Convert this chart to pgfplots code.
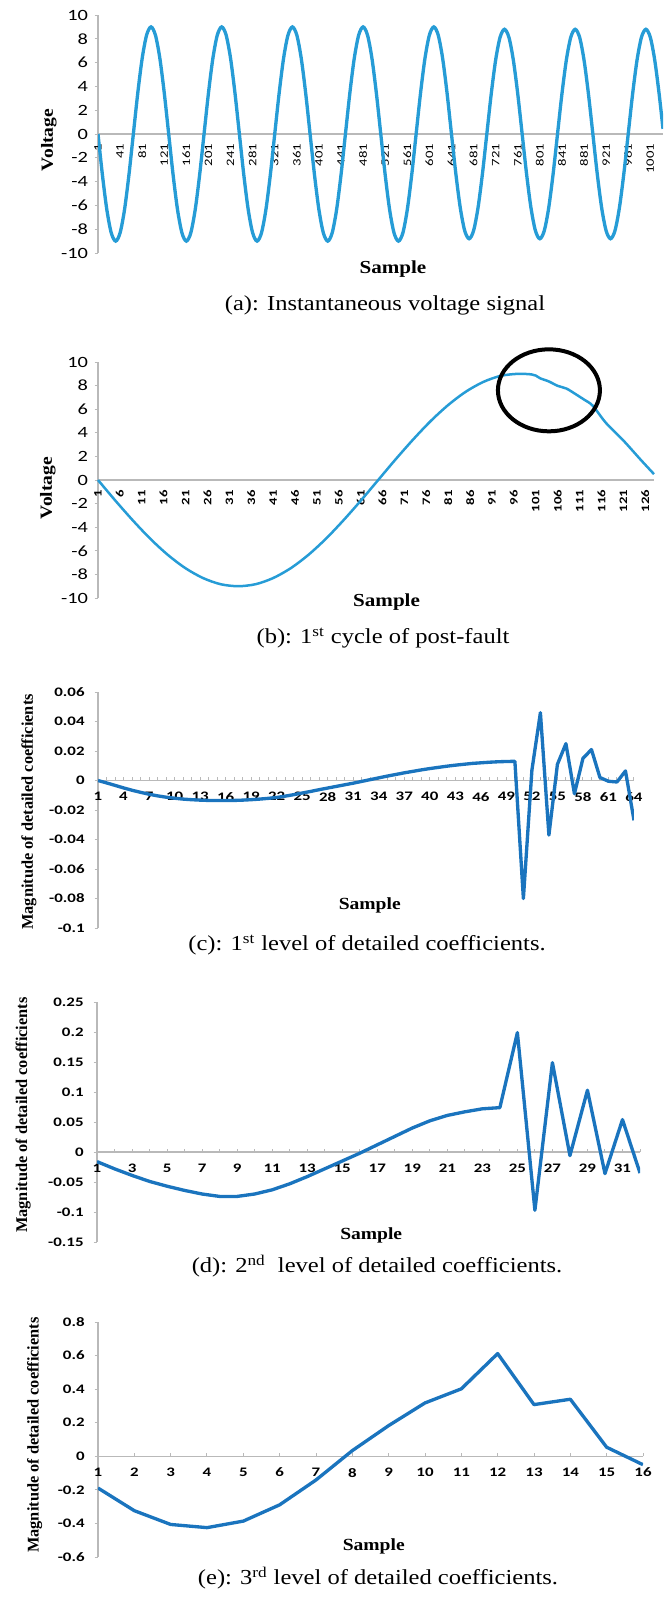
\documentclass[border=0pt]{standalone}
\usepackage{pgfplots}
\pgfplotsset{compat=1.18}
\usepackage{fontspec}
\setmainfont{Liberation Serif}[FakeStretch=1.15]
\newfontfamily\plainserif{Liberation Serif}
\newfontfamily\calfont{Carlito}[FakeStretch=1.3]

\definecolor{sigblue}{RGB}{38,156,214}
\definecolor{coefblue}{RGB}{26,116,190}
\definecolor{axgray}{RGB}{185,185,185}

\pgfplotsset{
  panel/.style={
    scale only axis,
    anchor=south west,
    axis x line*=middle,
    axis y line*=left,
    hide obscured x ticks=false,
    hide obscured y ticks=false,
    axis line style={draw=axgray, line width=0.9pt},
    ytick align=outside,
    xtick align=inside,
    major tick length=2pt,
    minor tick length=2pt,
    every tick/.style={draw=axgray, line width=0.6pt},
    minor tick num=0,
  },
  sig/.style={
    yticklabel style={font=\calfont\fontsize{9.4}{9.5}\selectfont, xshift=-0.5pt},
    xticklabel style={yshift=-2.5pt, rotate=90, anchor=east},
    xtick style={draw=none},
    xlabel style={font=\bfseries\fontsize{11}{12}\selectfont, anchor=center},
    ylabel style={font=\bfseries\fontsize{10.2}{11}\selectfont, anchor=center},
  },
  coef/.style={
    yticklabel style={font=\calfont\bfseries\fontsize{7.8}{8}\selectfont, xshift=-2.5pt},
    xticklabel style={font=\calfont\bfseries\fontsize{7.8}{8}\selectfont, yshift=-3.5pt},
    xlabel style={font=\bfseries\fontsize{10.2}{11}\selectfont, anchor=center},
    ylabel style={font=\plainserif\bfseries\fontsize{9.8}{10}\selectfont, anchor=center},
  },
}

\begin{document}
\begin{tikzpicture}
\useasboundingbox (0,0) rectangle (399.6pt,-959.4pt);

% (a) instantaneous voltage
\begin{axis}[panel, sig,
  at={(58.8pt,-151.8pt)}, width=339pt, height=142.8pt,
  xmin=1, xmax=1024, ymin=-10, ymax=10,
  ytick={-10,-8,-6,-4,-2,0,2,4,6,8,10},
  yticklabels={-10,-8,-6,-4,-2,0,2,4,6,8,10},
  xtick={1,41,81,121,161,201,241,281,321,361,401,441,481,521,561,601,641,681,721,761,801,841,881,921,961,1001},
  xticklabels={1,41,81,121,161,201,241,281,321,361,401,441,481,521,561,601,641,681,721,761,801,841,881,921,961,1001},
  xticklabel style={font=\calfont\fontsize{6.8}{7}\selectfont},
  xlabel={Sample}, ylabel={Voltage},
  xlabel style={at={(axis description cs:0.522,-0.069)}},
  ylabel style={at={(axis description cs:-0.087,0.475)}},
]
\addplot[sigblue, line width=2pt, smooth] coordinates {
(1,0)(9,-3.44)(17,-6.36)(25,-8.31)(33,-9)(41,-8.31)(49,-6.36)(57,-3.44)(65,0)(73,3.44)(81,6.36)(89,8.31)(97,9)(105,8.31)(113,6.36)(121,3.44)
(129,0)(137,-3.44)(145,-6.36)(153,-8.31)(161,-9)(169,-8.31)(177,-6.36)(185,-3.44)(193,0)(201,3.44)(209,6.36)(217,8.31)(225,9)(233,8.31)(241,6.36)(249,3.44)
(257,0)(265,-3.44)(273,-6.36)(281,-8.31)(289,-9)(297,-8.31)(305,-6.36)(313,-3.44)(321,0)(329,3.44)(337,6.36)(345,8.31)(353,9)(361,8.31)(369,6.36)(377,3.44)
(385,0)(393,-3.44)(401,-6.36)(409,-8.31)(417,-9)(425,-8.31)(433,-6.36)(441,-3.44)(449,0)(457,3.44)(465,6.36)(473,8.31)(481,9)(489,8.31)(497,6.36)(505,3.44)
(513,0)(521,-3.44)(529,-6.36)(537,-8.31)(545,-9)(553,-8.31)(561,-6.36)(569,-3.44)(577,0)(585,3.44)(593,6.36)(601,8.31)(609,9)(617,8.31)(625,6.36)(633,3.44)
(641,0)(649,-3.37)(657,-6.22)(665,-8.13)(673,-8.8)(681,-8.13)(689,-6.22)(697,-3.37)(705,0)(713,3.37)(721,6.22)(729,8.13)(737,8.8)(745,8.13)(753,6.22)(761,3.37)
(769,0)(777,-3.37)(785,-6.22)(793,-8.13)(801,-8.8)(809,-8.13)(817,-6.22)(825,-3.37)(833,0)(841,3.37)(849,6.22)(857,8.13)(865,8.8)(873,8.13)(881,6.22)(889,3.37)
(897,0)(905,-3.37)(913,-6.22)(921,-8.13)(929,-8.8)(937,-8.13)(945,-6.22)(953,-3.37)(961,0)(969,3.37)(977,6.22)(985,8.13)(993,8.8)(1001,8.13)(1009,6.22)(1017,3.37)(1024,0.43)
};
\end{axis}
\node[font=\fontsize{12.8}{14}\selectfont] at (231pt,-183pt) {(a): Instantaneous voltage signal};

% (b) first cycle of post-fault
\begin{axis}[panel, sig, clip=false,
  at={(58.8pt,-358.8pt)}, width=333.6pt, height=141.6pt,
  xmin=1, xmax=128, ymin=-10, ymax=10,
  ytick={-10,-8,-6,-4,-2,0,2,4,6,8,10},
  yticklabels={-10,-8,-6,-4,-2,0,2,4,6,8,10},
  xtick={1,6,11,16,21,26,31,36,41,46,51,56,61,66,71,76,81,86,91,96,101,106,111,116,121,126},
  xticklabels={1,6,11,16,21,26,31,36,41,46,51,56,61,66,71,76,81,86,91,96,101,106,111,116,121,126},
  xticklabel style={font=\calfont\bfseries\fontsize{6.8}{7}\selectfont},
  xlabel={Sample}, ylabel={Voltage},
  xlabel style={at={(axis description cs:0.519,-0.017)}},
  ylabel style={at={(axis description cs:-0.09,0.466)}},
]
\addplot[sigblue, line width=1.5pt, smooth] coordinates {
(1,0)(5,-1.76)(9,-3.44)(13,-5.00)(17,-6.36)(21,-7.48)(25,-8.31)(29,-8.83)(33,-9.00)
(37,-8.83)(41,-8.31)(45,-7.48)(49,-6.36)(53,-5.00)(57,-3.44)(61,-1.76)(65,0)
(69,1.76)(73,3.44)(77,5.00)(81,6.36)(85,7.48)(89,8.31)(93,8.83)(97,9.00)
(100,8.95)(101,8.85)(102,8.62)(104,8.35)(106,7.98)(108,7.75)(110,7.30)(112,6.82)(114,6.30)
(117,4.85)(121,3.35)(125,1.70)(128,0.50)
};
\draw[black, line width=2.4pt] (axis cs:104,7.6) ellipse [x radius=30.6pt, y radius=24.6pt];
\end{axis}
\node[font=\fontsize{12.8}{14}\selectfont] at (229.8pt,-382.8pt) {(b): 1\textsuperscript{st} cycle of post-fault};

% (c) 1st level detail coefficients
\begin{axis}[panel, coef,
  at={(58.8pt,-556.8pt)}, width=321.6pt, height=141.6pt,
  xmin=1, xmax=64, ymin=-0.1, ymax=0.06,
  ytick={-0.1,-0.08,-0.06,-0.04,-0.02,0,0.02,0.04,0.06},
  yticklabels={-0.1,-0.08,-0.06,-0.04,-0.02,0,0.02,0.04,0.06},
  xtick={1,4,...,64},
  xticklabels={1,4,7,10,13,16,19,22,25,28,31,34,37,40,43,46,49,52,55,58,61,64},
  minor xtick={1,...,64},
  xlabel={Sample}, ylabel={Magnitude of detailed coefficients},
  xlabel style={at={(axis description cs:0.507,0.097)}},
  ylabel style={at={(axis description cs:-0.129,0.492)}},
]
\addplot[coefblue, line width=2pt, line join=round] coordinates {
(1,0.0000)(2,-0.0016)(3,-0.0033)(4,-0.0050)(5,-0.0066)(6,-0.0080)(7,-0.0093)(8,-0.0104)
(9,-0.0113)(10,-0.0120)(11,-0.0126)(12,-0.0130)(13,-0.0133)(14,-0.0135)(15,-0.0136)(16,-0.0136)
(17,-0.0135)(18,-0.0133)(19,-0.0130)(20,-0.0126)(21,-0.0121)(22,-0.0115)(23,-0.0106)(24,-0.0096)
(25,-0.0085)(26,-0.0074)(27,-0.0062)(28,-0.0051)(29,-0.0040)(30,-0.0029)(31,-0.0018)(32,-0.0006)
(33,0.0006)(34,0.0018)(35,0.0030)(36,0.0041)(37,0.0052)(38,0.0062)(39,0.0072)(40,0.0081)
(41,0.0089)(42,0.0097)(43,0.0104)(44,0.0110)(45,0.0116)(46,0.0120)(47,0.0124)(48,0.0127)
(49,0.0129)(50,0.0130)(51,-0.0800)(52,0.0070)(53,0.0460)(54,-0.0370)(55,0.0110)(56,0.0250)
(57,-0.0090)(58,0.0150)(59,0.0210)(60,0.0020)(61,-0.0005)(62,-0.0010)(63,0.0065)(64,-0.0270)
};
\end{axis}
\node[font=\fontsize{12.8}{14}\selectfont] at (220.2pt,-567pt) {(c): 1\textsuperscript{st} level of detailed coefficients.};

% (d) 2nd level detail coefficients
\begin{axis}[panel, coef,
  at={(58.2pt,-745.2pt)}, width=325.8pt, height=144pt,
  xmin=1, xmax=32, ymin=-0.15, ymax=0.25,
  ytick={-0.15,-0.1,-0.05,0,0.05,0.1,0.15,0.2,0.25},
  yticklabels={-0.15,-0.1,-0.05,0,0.05,0.1,0.15,0.2,0.25},
  xtick={1,3,...,31},
  xticklabels={1,3,5,7,9,11,13,15,17,19,21,23,25,27,29,31},
  minor xtick={1,...,32},
  xlabel={Sample}, ylabel={Magnitude of detailed coefficients},
  xlabel style={at={(axis description cs:0.505,0.029)}},
  ylabel style={at={(axis description cs:-0.136,0.529)}},
]
\addplot[coefblue, line width=2pt, line join=round] coordinates {
(1,-0.016)(2,-0.028)(3,-0.039)(4,-0.049)(5,-0.057)(6,-0.064)(7,-0.070)(8,-0.074)
(9,-0.074)(10,-0.070)(11,-0.063)(12,-0.053)(13,-0.041)(14,-0.028)(15,-0.015)(16,-0.002)
(17,0.012)(18,0.026)(19,0.040)(20,0.052)(21,0.061)(22,0.067)(23,0.072)(24,0.074)
(25,0.199)(26,-0.097)(27,0.149)(28,-0.006)(29,0.103)(30,-0.036)(31,0.054)(32,-0.035)
};
\end{axis}
\node[font=\fontsize{12.8}{14}\selectfont] at (226.2pt,-759.6pt) {(d): 2\textsuperscript{nd}\ \ level of detailed coefficients.};

% (e) 3rd level detail coefficients
\begin{axis}[panel, coef,
  at={(58.8pt,-934.2pt)}, width=327pt, height=141pt,
  xmin=1, xmax=16, ymin=-0.6, ymax=0.8,
  ytick={-0.6,-0.4,-0.2,0,0.2,0.4,0.6,0.8},
  yticklabels={-0.6,-0.4,-0.2,0,0.2,0.4,0.6,0.8},
  xtick={1,...,16},
  xticklabels={1,2,3,4,5,6,7,8,9,10,11,12,13,14,15,16},
  xlabel={Sample}, ylabel={Magnitude of detailed coefficients},
  xlabel style={at={(axis description cs:0.506,0.047)}},
  ylabel style={at={(axis description cs:-0.116,0.519)}},
]
\addplot[coefblue, line width=2pt, line join=round] coordinates {
(1,-0.189)(2,-0.324)(3,-0.406)(4,-0.425)(5,-0.386)(6,-0.289)(7,-0.141)(8,0.034)
(9,0.183)(10,0.318)(11,0.402)(12,0.612)(13,0.308)(14,0.340)(15,0.054)(16,-0.050)
};
\end{axis}
\node[font=\fontsize{12.8}{14}\selectfont] at (226.8pt,-946.8pt) {(e): 3\textsuperscript{rd} level of detailed coefficients.};
\end{tikzpicture}
\end{document}
